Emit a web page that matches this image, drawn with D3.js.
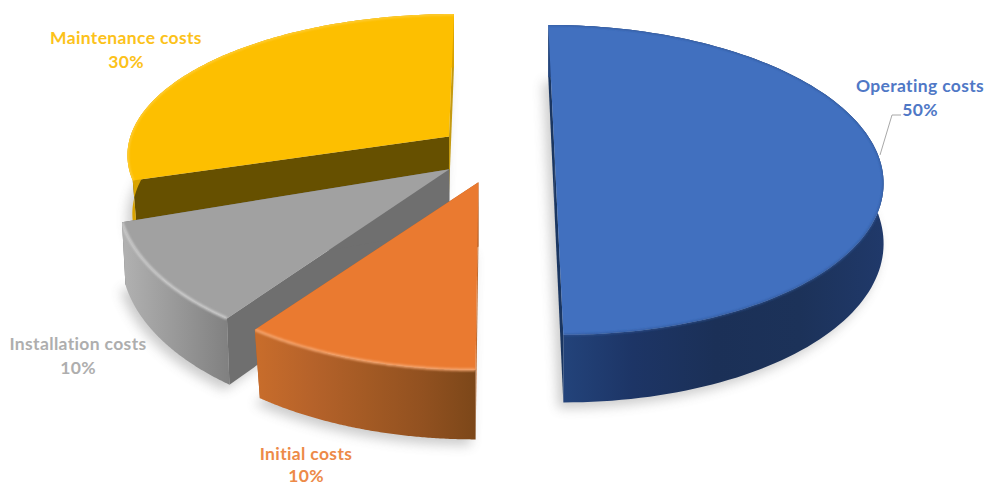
<!DOCTYPE html>
<html>
<head>
<meta charset="utf-8">
<script src="https://cdn.jsdelivr.net/npm/d3@7/dist/d3.min.js"></script>
<style>
html,body{margin:0;padding:0;background:#fff;overflow:hidden}
text{font-family:Lato,"Open Sans",sans-serif;font-weight:700;font-size:17.5px;letter-spacing:.35px;text-anchor:middle}
</style>
</head>
<body>
<svg id="chart" width="984" height="486"></svg>
<script>
// Cost shares, in pie order starting at twelve o'clock and running clockwise
const categories = ["Operating costs", "Initial costs", "Installation costs", "Maintenance costs"];
const shares = [50, 10, 10, 30];
const explode = [0.178, 0.172, 0.17, 0.19];
const nudgeX = [0, -0.003, -0.008, 0.003];
const nudgeY = [0, -0.02, -0.04, -0.045];
const radiusX = [1, 1.014, 1, 1];
const radiusY = [1, 1.027, 1.06, 0.935];
const taper = [1, 0.98, 0.99, 0.985];
const depths = [59, 63, 60, 59];

const topColors = ["#4170bf", "#ea7a30", "#a1a1a1", "#fdbf00"];
const labelColors = ["#4f78c6", "#ed8a48", "#aeaeae", "#fcc21a"];
const rimColors = ["#2f5597", "#f6a771", "#cfcfcf", "#ffcf40"];
const startWall = ["#1a3661", "#c06a2e", "#6f6f6f", "#665000"];
const endWall = ["#1a3661", "#b05f28", "#6f6f6f", "#c49a10"];
const outerStops = [
  ["#24467f", "#1d3566", "#1b3057", "#1c3259", "#20396a"],
  ["#c76c2b", "#b5622a", "#a35a24", "#925120", "#7c4719"],
  ["#b0b0b0", "#a4a4a4", "#989898", "#8c8c8c", "#808080"],
  ["#d9a300", "#d9a300", "#d9a300", "#d9a300", "#d9a300"]
];
const labelPlaces = [[920, 92], [306, 460], [78, 350], [126, 44]];
const lineGaps = [24, 22, 24, 24];

// Perspective: the disc lies flat and recedes towards a vanishing point above the chart
const width = 984, height = 486;
const xScale = d3.scaleLinear().domain([-1, 1]).range([172, 822]);
const yScale = d3.scaleLinear().domain([-1, 1]).range([7.6, 312.4]);
const persp = 0.128;

function project(X, Y, z) {
  const s = 1 / (1 - persp * Y);
  return [xScale(X * s), yScale(Y * s) + (z || 0) * s];
}

const svg = d3.select("#chart");
const defs = svg.append("defs");
defs.append("filter").attr("id", "soft").attr("x", "-20%").attr("y", "-20%").attr("width", "140%").attr("height", "140%")
  .append("feGaussianBlur").attr("stdDeviation", 6);
defs.append("filter").attr("id", "rim").attr("x", "-10%").attr("y", "-10%").attr("width", "120%").attr("height", "120%")
  .append("feGaussianBlur").attr("stdDeviation", 1);

const pie = d3.pie().sort(null).value(d => d).startAngle(0).endAngle(2 * Math.PI);
const arcs = pie(shares);
const line = d3.line();
const closed = pts => line(pts) + "Z";

const slices = arcs.map((a, i) => {
  const mid = (a.startAngle + a.endAngle) / 2;
  const ox = Math.sin(mid) * explode[i] + nudgeX[i];
  const oy = -Math.cos(mid) * explode[i] + nudgeY[i];
  // The lower rim of each wall pulls in a little, like the chamfer of a bevelled slice
  const edge = (t, z) => {
    const k = z > 0 ? taper[i] : 1;
    return project(ox + k * radiusX[i] * Math.sin(t), oy - k * radiusY[i] * Math.cos(t), z);
  };
  const angles = d3.range(0, 121).map(k => a.startAngle + (a.endAngle - a.startAngle) * k / 120);
  return {
    i, a, edge,
    apex: z => project(ox, oy, z),
    rimAt: z => angles.map(t => edge(t, z))
  };
});

// Soft shadows sit under each slice, shifted slightly left and down
const shadow = svg.append("g").attr("filter", "url(#soft)").attr("opacity", 0.3);
slices.forEach(sl => {
  const z = depths[sl.i] + 5;
  const pts = [sl.apex(z), ...sl.rimAt(z)].map(p => [p[0] - 5, p[1]]);
  shadow.append("path").attr("d", closed(pts)).attr("fill", "#555");
});

// Back-to-front order keeps the nearer slices on top
[3, 2, 1, 0].forEach(i => {
  const sl = slices[i];
  const depth = depths[i];
  const g = svg.append("g").attr("class", "slice");
  const top = sl.rimAt(0), bottom = sl.rimAt(depth);
  const ext = d3.extent(bottom, p => p[0]);

  const grad = defs.append("linearGradient").attr("id", "wall" + i)
    .attr("gradientUnits", "userSpaceOnUse")
    .attr("x1", ext[0]).attr("x2", ext[1]).attr("y1", 0).attr("y2", 0);
  outerStops[i].forEach((c, k) => grad.append("stop").attr("offset", k / 4).attr("stop-color", c));

  const outerWall = closed([...top, ...bottom.slice().reverse()]);
  const face = closed([sl.apex(0), ...top]);

  // The bevel stays inside the slice's own outline
  defs.append("clipPath").attr("id", "bevel" + i)
    .selectAll("path").data([outerWall, face]).join("path").attr("d", d => d);

  // Flat cut faces
  g.append("path").attr("fill", startWall[i])
    .attr("d", closed([sl.apex(0), sl.edge(sl.a.startAngle, 0), sl.edge(sl.a.startAngle, depth), sl.apex(depth)]));
  g.append("path").attr("fill", endWall[i])
    .attr("d", closed([sl.apex(0), sl.edge(sl.a.endAngle, 0), sl.edge(sl.a.endAngle, depth), sl.apex(depth)]));

  // Curved outer wall
  g.append("path").attr("fill", `url(#wall${i})`).attr("d", outerWall);

  // Top face
  g.append("path").attr("fill", topColors[i]).attr("d", face);

  // Bevel highlight along the rim
  g.append("g").attr("clip-path", `url(#bevel${i})`)
    .append("path").attr("fill", "none").attr("stroke", rimColors[i])
    .attr("stroke-width", i === 0 ? 1.5 : 2.5).attr("filter", "url(#rim)")
    .attr("d", line(top));
});

// Leader line for the operating costs label
svg.append("path").attr("fill", "none").attr("stroke", "#a8a8a8").attr("stroke-width", 1)
  .attr("d", line([[880, 155], [892, 115], [901, 115]]));

// Data labels: category on the first line, share on the second
const total = d3.sum(shares);
const fmt = d3.format(".0%");
const labels = svg.append("g").selectAll("g").data(categories).join("g")
  .attr("transform", (d, i) => `translate(${labelPlaces[i][0]},${labelPlaces[i][1]})`)
  .attr("fill", (d, i) => labelColors[i]);
labels.append("text").text(d => d);
labels.append("text").attr("y", (d, i) => lineGaps[i]).text((d, i) => fmt(shares[i] / total));
</script>
</body>
</html>
